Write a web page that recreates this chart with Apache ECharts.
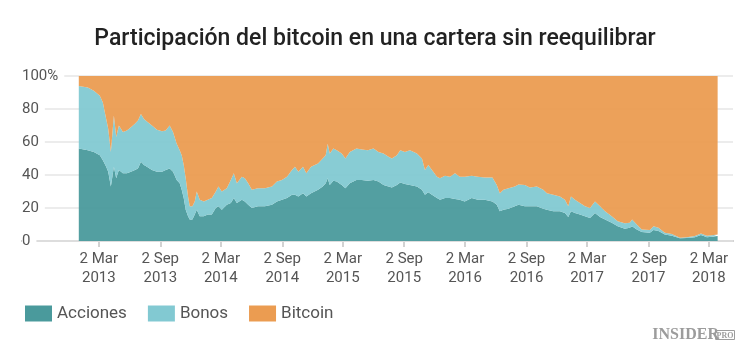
<!DOCTYPE html>
<html>
<head>
<meta charset="utf-8">
<script src="https://cdn.jsdelivr.net/npm/echarts@6/dist/echarts.min.js"></script>
<style>
  html, body { margin: 0; padding: 0; background: #fff; }
  #chart { width: 750px; height: 353px; }
</style>
</head>
<body>
<div id="chart"></div>
<script>
// fechas de las muestras
var fechas = [
  '2013-01-01','2013-01-28','2013-02-15','2013-03-05','2013-03-14','2013-03-24','2013-03-30','2013-04-07',
  '2013-04-16','2013-04-23','2013-05-01','2013-05-13','2013-05-25','2013-06-06','2013-06-18','2013-06-27',
  '2013-07-06','2013-07-15','2013-07-24','2013-08-08','2013-08-23','2013-09-07','2013-09-18','2013-09-30',
  '2013-10-10','2013-10-21','2013-10-30','2013-11-05','2013-11-11','2013-11-17','2013-11-24','2013-11-29',
  '2013-12-07','2013-12-14','2013-12-20','2013-12-29','2014-01-10','2014-01-22','2014-02-03','2014-02-15',
  '2014-02-23','2014-03-05','2014-03-20','2014-04-01','2014-04-10','2014-04-19','2014-05-04','2014-05-13',
  '2014-05-23','2014-06-03','2014-06-21','2014-07-12','2014-08-02','2014-08-17','2014-09-01','2014-09-16',
  '2014-10-01','2014-10-10','2014-10-20','2014-11-03','2014-11-13','2014-11-27','2014-12-18','2015-01-01',
  '2015-01-10','2015-01-16','2015-01-22','2015-02-02','2015-02-12','2015-02-27','2015-03-10','2015-03-23',
  '2015-04-12','2015-04-28','2015-05-16','2015-06-02','2015-06-17','2015-07-02','2015-07-17','2015-07-27',
  '2015-08-11','2015-08-21','2015-09-04','2015-09-19','2015-10-10','2015-10-25','2015-11-03','2015-11-13',
  '2015-11-24','2015-12-09','2015-12-18','2016-01-02','2016-01-17','2016-02-01','2016-02-15','2016-03-01',
  '2016-03-22','2016-04-09','2016-04-30','2016-05-23','2016-06-05','2016-06-14','2016-06-25','2016-07-10',
  '2016-07-29','2016-08-09','2016-08-28','2016-09-12','2016-10-03','2016-10-22','2016-11-02','2016-11-21',
  '2016-12-11','2016-12-26','2017-01-05','2017-01-13','2017-01-25','2017-02-09','2017-02-24','2017-03-11',
  '2017-03-26','2017-04-10','2017-04-25','2017-05-15','2017-06-02','2017-06-23','2017-07-08','2017-07-15',
  '2017-07-29','2017-08-13','2017-09-06','2017-09-17','2017-10-02','2017-10-21','2017-11-11','2017-12-05',
  '2017-12-26','2018-01-19','2018-02-06','2018-02-24','2018-03-11','2018-03-28'
];
// % de la cartera
var acciones = [
  56,55,54,52,49,45,42,33, 45,38,43,41,41,42,43,44, 48,46,45,43,42,42,43,44,
  42,37,35,31,26,19,15,13, 13,16,19,15,15,16,16,20, 21,19,22,23,26,23,25,24,
  22,20,21,21,22,24,25,26, 28,28,27,29,27,29,31,33, 35,38,34,36.5,36,34,32,35,
  37,37,36.5,37,36,34,33,32.5, 34,35.5,34.5,34,33,31,28,29.5, 28,26,25,26,26,25.5,25,24,
  26,25,25,24,22,18,19,19.5, 21,22,21,21,21,19.5,19,18, 18,17,14.5,18,17,16,15,14,
  17,14.5,13,11,9,7.5,8,9, 7,5.5,5,6.7,6,4,3.2,1.6, 1.8,2.3,3.6,2.3,2.6,3
];
var bonos = [
  38,38,37,36,35,29,26,21, 31,25,27,25,26,27,28,29, 29,28,27.5,27,25.5,24.5,24,26,
  24,22,20,21,20,19,12,8, 8,8,11,10,9,9,10,10, 12,11,10,14,15,12,14,14,
  13,11,11,11,11,12,12,13, 15,17,15,16,14,16,16,17, 17,21,19,19.5,19,19,18,19,
  19,18.5,18.5,19,18,19,18,17.5, 18,19.5,19.5,21,20,19,15,16.5, 15,13,13,13.5,13,15.5,14,15,
  13.5,14,13.5,14.5,12,11,12,12.5, 12,12.3,13,11.5,12,11.5,10,10, 9,8,6.5,9,8,7,6,6,
  7,6.5,5,4,3,3.2,3,4, 3,1.5,1.6,2.3,2,1,1,0.4, 0.4,0.7,1,0.9,0.9,1
];
var bitcoin = [
  6,7,9,12,16,26,32,46, 24,37,30,34,33,31,29,27, 23,26,27.5,30,32.5,33.5,33,30,
  34,41,45,48,54,62,73,79, 79,76,70,75,76,75,74,70, 67,70,68,63,59,65,61,62,
  65,69,68,68,67,64,63,61, 57,55,58,55,59,55,53,50, 48,41,47,44,45,47,50,46,
  44,44.5,45,44,46,47,49,50, 48,45,46,45,47,50,57,54, 57,61,62,60.5,61,59,61,61,
  60.5,61,61.5,61.5,66,71,69,68, 67,65.7,66,67.5,67,69,71,72, 73,75,79,73,75,77,79,80,
  76,79,82,85,88,89.3,89,87, 90,93,93.4,91,92,95,95.8,98, 97.8,97,95.4,96.8,96.5,96
];
var marcas = ['2013-03-02','2013-09-02','2014-03-02','2014-09-02','2015-03-02','2015-09-02',
  '2016-03-02','2016-09-02','2017-03-02','2017-09-02','2018-03-02'];
var meses = ['Ene','Feb','Mar','Abr','May','Jun','Jul','Ago','Sep','Oct','Nov','Dic'];

function aFecha(s){
  var p = s.split('-');
  return new Date(+p[0], +p[1]-1, +p[2]).getTime();
}
function serie(vals){
  return fechas.map(function(f,i){ return [aFecha(f), vals[i]]; });
}
var ticks = marcas.map(aFecha);
var xMin = aFecha('2012-07-15'), xMax = aFecha('2018-05-13');
var fuente = 'Roboto';

var chart = echarts.init(document.getElementById('chart'));
var option = {
  animation: false,
  color: ['#4a9a9c','#82c9d2','#eb9c51'],
  title: {
    text: 'Participación del bitcoin en una cartera sin reequilibrar',
    left: 'center',
    top: 23,
    textStyle: { fontFamily: fuente, fontSize: 23, fontWeight: 500, color: '#222' }
  },
  legend: {
    left: 25,
    top: 305,
    padding: 0,
    icon: 'rect',
    itemWidth: 27,
    itemHeight: 16,
    itemGap: 21,
    textStyle: { fontFamily: fuente, fontSize: 17, color: '#555' },
    data: ['Acciones','Bonos','Bitcoin']
  },
  grid: { left: 22, right: 17, top: 76, bottom: 112 },
  xAxis: [
    {
      // eje de datos (tiempo)
      type: 'time',
      min: xMin,
      max: xMax,
      axisLine: { lineStyle: { color: '#c4c4c4', width: 2 } },
      axisTick: { show: false },
      axisLabel: { show: false },
      splitLine: { show: false }
    },
    {
      // eje de marcas: 2 mar / 2 sep
      type: 'value',
      position: 'bottom',
      min: xMin,
      max: xMax,
      axisLine: { show: false },
      splitLine: { show: false },
      axisTick: { show: true, customValues: ticks, length: 6, lineStyle: { color: '#c4c4c4', width: 1.5 } },
      axisLabel: {
        customValues: ticks,
        margin: 9,
        fontFamily: fuente,
        fontSize: 15,
        lineHeight: 19,
        color: '#555',
        formatter: function(v){
          var d = new Date(v);
          return d.getDate() + ' ' + meses[d.getMonth()] + '\n' + d.getFullYear();
        }
      }
    }
  ],
  yAxis: {
    type: 'value',
    min: 0,
    max: 100,
    interval: 20,
    z: 1,
    axisLine: { show: false },
    axisTick: { show: false },
    splitLine: { lineStyle: { color: '#e6e6e6', width: 1.5 } },
    axisLabel: {
      inside: true,
      margin: 0,
      fontFamily: fuente,
      fontSize: 15,
      color: '#555',
      backgroundColor: '#fff',
      padding: [2, 6, 2, 0],
      formatter: function(v){ return v === 100 ? '100%' : v; }
    }
  },
  series: [
    { name: 'Acciones', type: 'line', stack: 'total', data: serie(acciones) },
    { name: 'Bonos', type: 'line', stack: 'total', data: serie(bonos) },
    { name: 'Bitcoin', type: 'line', stack: 'total', data: serie(bitcoin) }
  ].map(function(s){
    s.xAxisIndex = 0;
    s.symbol = 'none';
    s.lineStyle = { width: 0 };
    s.areaStyle = { opacity: 0.95 };
    return s;
  }),
  graphic: [
    {
      type: 'text', right: 31, top: 327,
      style: { text: 'INSIDER', font: 'bold 16px "Liberation Serif", serif', fill: '#9c9c9c' }
    },
    {
      type: 'text', right: 15, top: 330,
      style: { text: 'PRO', font: 'bold 8px "Liberation Serif", serif', fill: '#9c9c9c',
        borderColor: '#9c9c9c', borderWidth: 1, padding: [1, 1, 0, 1] }
    }
  ]
};
chart.setOption(option);
</script>
</body>
</html>
